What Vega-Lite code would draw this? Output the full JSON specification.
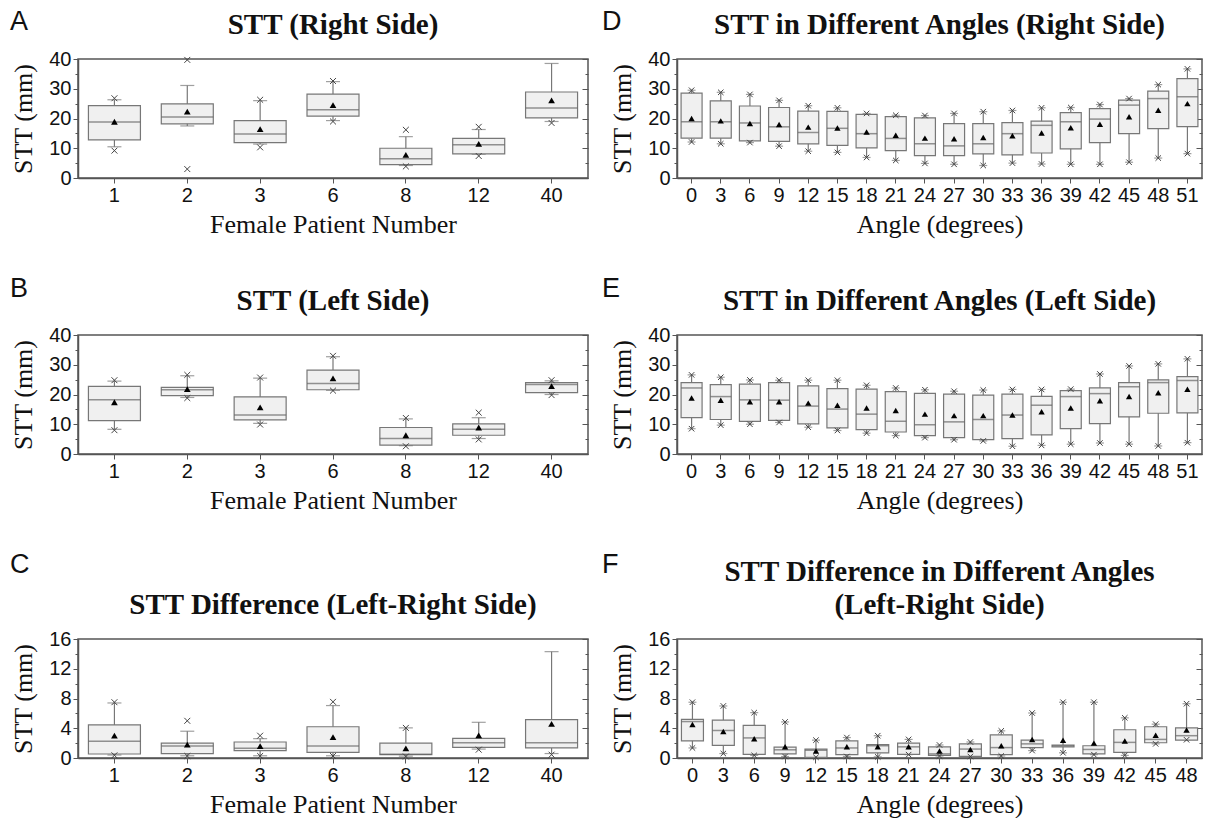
{
  "$schema": "https://vega.github.io/schema/vega-lite/v6.json",
  "padding": {"left": 10, "top": 8, "right": 2, "bottom": 0},
  "background": "white",
  "config": {
    "view": {"stroke": "#555", "strokeWidth": 1.5},
    "axis": {"labelFont": "Liberation Sans", "labelFontSize": 20, "labelColor": "#111", "titleFont": "Liberation Serif", "titleFontSize": 26, "titleFontWeight": "normal", "titleColor": "#111", "domainColor": "#555", "domainWidth": 1.5, "tickColor": "#555", "tickSize": 5, "grid": false, "labelPadding": 2, "labelOverlap": false},
    "axisX": {"labelAngle": 0, "titlePadding": 6},
    "axisY": {"titlePadding": 12},
    "title": {"font": "Liberation Serif", "fontSize": 29, "fontWeight": "bold", "color": "#111", "lineHeight": 33, "offset": 9}
  },
  "datasets": {
    "A": [
      {"c": 1, "q1": 12.8, "q3": 24.3, "med": 18.8, "mean": 18.9, "wlo": 10.5, "whi": 26.3, "mn": 9.2, "mx": 26.8},
      {"c": 2, "q1": 18.2, "q3": 24.9, "med": 20.5, "mean": 22.3, "wlo": 17.5, "whi": 31.1, "mn": 3.0, "mx": 39.7},
      {"c": 3, "q1": 11.9, "q3": 19.3, "med": 14.8, "mean": 16.4, "wlo": 11.4, "whi": 26.0, "mn": 10.3, "mx": 26.3},
      {"c": 6, "q1": 20.8, "q3": 28.2, "med": 22.9, "mean": 24.5, "wlo": 19.3, "whi": 32.4, "mn": 19.0, "mx": 32.6},
      {"c": 8, "q1": 4.5, "q3": 10.0, "med": 6.5, "mean": 7.8, "wlo": 4.2, "whi": 13.9, "mn": 3.9, "mx": 16.2},
      {"c": 12, "q1": 8.1, "q3": 13.3, "med": 11.2, "mean": 11.5, "wlo": 8.0, "whi": 16.3, "mn": 7.4, "mx": 17.2},
      {"c": 40, "q1": 20.2, "q3": 28.9, "med": 23.5, "mean": 26.1, "wlo": 19.0, "whi": 38.5, "mn": 18.5, "mx": null}
    ],
    "B": [
      {"c": 1, "q1": 11.2, "q3": 22.7, "med": 18.2, "mean": 17.4, "wlo": 8.3, "whi": 24.5, "mn": 8.0, "mx": 24.8},
      {"c": 2, "q1": 19.6, "q3": 22.4, "med": 21.6, "mean": 21.8, "wlo": 19.0, "whi": 26.3, "mn": 18.8, "mx": 26.6},
      {"c": 3, "q1": 11.5, "q3": 19.2, "med": 13.1, "mean": 15.7, "wlo": 10.3, "whi": 25.5, "mn": 9.9, "mx": 25.7},
      {"c": 6, "q1": 21.6, "q3": 28.2, "med": 23.7, "mean": 25.4, "wlo": 21.4, "whi": 32.7, "mn": 21.3, "mx": 33.0},
      {"c": 8, "q1": 3.0, "q3": 8.9, "med": 5.2, "mean": 6.3, "wlo": 2.8, "whi": 11.8, "mn": 2.6, "mx": 12.1},
      {"c": 12, "q1": 6.3, "q3": 10.1, "med": 8.3, "mean": 8.9, "wlo": 5.2, "whi": 12.2, "mn": 4.9, "mx": 13.9},
      {"c": 40, "q1": 20.6, "q3": 24.0, "med": 23.4, "mean": 22.8, "wlo": 20.0, "whi": 24.6, "mn": 19.8, "mx": 24.8}
    ],
    "C": [
      {"c": 1, "q1": 0.54, "q3": 4.45, "med": 2.25, "mean": 3.0, "wlo": 0.4, "whi": 7.4, "mn": 0.36, "mx": 7.5},
      {"c": 2, "q1": 0.58, "q3": 2.0, "med": 1.6, "mean": 1.8, "wlo": 0.3, "whi": 3.6, "mn": 0.27, "mx": 5.0},
      {"c": 3, "q1": 1.0, "q3": 2.15, "med": 1.3, "mean": 1.6, "wlo": 0.3, "whi": 2.6, "mn": 0.27, "mx": 3.0},
      {"c": 6, "q1": 0.76, "q3": 4.2, "med": 1.6, "mean": 2.8, "wlo": 0.3, "whi": 7.05, "mn": 0.27, "mx": 7.55},
      {"c": 8, "q1": 0.45, "q3": 2.0, "med": 0.5, "mean": 1.3, "wlo": 0.25, "whi": 4.05, "mn": 0.2, "mx": 4.05},
      {"c": 12, "q1": 1.43, "q3": 2.65, "med": 2.06, "mean": 3.05, "wlo": 1.2, "whi": 4.8, "mn": 1.12, "mx": null},
      {"c": 40, "q1": 1.35, "q3": 5.17, "med": 2.06, "mean": 4.59, "wlo": 0.6, "whi": 14.3, "mn": 0.45, "mx": null}
    ],
    "D": [
      {"c": 0, "q1": 13.4, "q3": 28.5, "med": 18.9, "mean": 20.0, "mn": 12.1, "mx": 29.5},
      {"c": 3, "q1": 13.4, "q3": 25.9, "med": 18.9, "mean": 19.2, "mn": 11.5, "mx": 28.8},
      {"c": 6, "q1": 12.5, "q3": 24.2, "med": 18.5, "mean": 18.3, "mn": 11.9, "mx": 28.1},
      {"c": 9, "q1": 12.3, "q3": 23.7, "med": 17.2, "mean": 18.0, "mn": 10.7, "mx": 26.1},
      {"c": 12, "q1": 11.5, "q3": 22.5, "med": 15.3, "mean": 17.1, "mn": 9.0, "mx": 24.3},
      {"c": 15, "q1": 11.0, "q3": 22.4, "med": 16.7, "mean": 16.8, "mn": 8.6, "mx": 23.6},
      {"c": 18, "q1": 10.1, "q3": 21.4, "med": 14.9, "mean": 15.5, "mn": 6.9, "mx": 21.7},
      {"c": 21, "q1": 9.2, "q3": 20.6, "med": 13.3, "mean": 14.4, "mn": 5.9, "mx": 21.1},
      {"c": 24, "q1": 7.5, "q3": 20.2, "med": 11.5, "mean": 13.4, "mn": 4.9, "mx": 21.0},
      {"c": 27, "q1": 7.5, "q3": 18.3, "med": 10.8, "mean": 13.2, "mn": 4.6, "mx": 21.7},
      {"c": 30, "q1": 8.1, "q3": 18.3, "med": 11.5, "mean": 13.6, "mn": 4.2, "mx": 22.3},
      {"c": 33, "q1": 7.8, "q3": 18.6, "med": 14.9, "mean": 14.2, "mn": 5.0, "mx": 22.7},
      {"c": 36, "q1": 8.4, "q3": 19.1, "med": 17.7, "mean": 15.1, "mn": 4.7, "mx": 23.6},
      {"c": 39, "q1": 9.8, "q3": 22.0, "med": 18.9, "mean": 16.9, "mn": 4.6, "mx": 23.7},
      {"c": 42, "q1": 11.9, "q3": 23.3, "med": 19.8, "mean": 18.1, "mn": 4.6, "mx": 24.7},
      {"c": 45, "q1": 14.9, "q3": 26.2, "med": 24.5, "mean": 20.6, "mn": 5.3, "mx": 26.7},
      {"c": 48, "q1": 16.6, "q3": 29.2, "med": 26.7, "mean": 22.8, "mn": 6.7, "mx": 31.4},
      {"c": 51, "q1": 17.3, "q3": 33.4, "med": 27.3, "mean": 25.0, "mn": 8.2, "mx": 36.7}
    ],
    "E": [
      {"c": 0, "q1": 12.2, "q3": 24.0, "med": 22.2, "mean": 18.8, "mn": 8.5, "mx": 26.6},
      {"c": 3, "q1": 11.6, "q3": 23.3, "med": 19.3, "mean": 18.1, "mn": 9.7, "mx": 25.8},
      {"c": 6, "q1": 11.0, "q3": 23.5, "med": 18.2, "mean": 17.6, "mn": 10.0, "mx": 24.9},
      {"c": 9, "q1": 11.3, "q3": 24.0, "med": 18.1, "mean": 17.6, "mn": 10.6, "mx": 24.8},
      {"c": 12, "q1": 10.1, "q3": 22.9, "med": 16.1, "mean": 17.1, "mn": 9.0, "mx": 24.8},
      {"c": 15, "q1": 8.8, "q3": 22.0, "med": 15.1, "mean": 16.4, "mn": 7.9, "mx": 24.8},
      {"c": 18, "q1": 8.2, "q3": 21.8, "med": 13.4, "mean": 15.5, "mn": 7.0, "mx": 23.1},
      {"c": 21, "q1": 7.4, "q3": 21.0, "med": 11.0, "mean": 14.6, "mn": 6.2, "mx": 22.2},
      {"c": 24, "q1": 6.2, "q3": 20.4, "med": 9.8, "mean": 13.4, "mn": 5.5, "mx": 21.6},
      {"c": 27, "q1": 5.5, "q3": 20.1, "med": 10.8, "mean": 12.9, "mn": 4.8, "mx": 21.1},
      {"c": 30, "q1": 4.8, "q3": 19.8, "med": 11.6, "mean": 12.9, "mn": 4.4, "mx": 21.5},
      {"c": 33, "q1": 5.2, "q3": 20.1, "med": 13.1, "mean": 13.1, "mn": 2.6, "mx": 21.7},
      {"c": 36, "q1": 6.4, "q3": 19.4, "med": 16.4, "mean": 14.2, "mn": 2.9, "mx": 21.7},
      {"c": 39, "q1": 8.5, "q3": 21.3, "med": 19.3, "mean": 15.5, "mn": 3.3, "mx": 21.8},
      {"c": 42, "q1": 10.2, "q3": 22.2, "med": 20.3, "mean": 17.9, "mn": 3.7, "mx": 26.9},
      {"c": 45, "q1": 12.5, "q3": 24.0, "med": 22.6, "mean": 19.3, "mn": 3.3, "mx": 29.6},
      {"c": 48, "q1": 13.7, "q3": 24.9, "med": 24.0, "mean": 20.6, "mn": 2.7, "mx": 30.3},
      {"c": 51, "q1": 13.8, "q3": 26.0, "med": 24.7, "mean": 21.8, "mn": 3.8, "mx": 32.0}
    ],
    "F": [
      {"c": 0, "q1": 2.3, "q3": 5.2, "med": 4.9, "mean": 4.5, "mn": 1.35, "mx": 7.5},
      {"c": 3, "q1": 1.7, "q3": 5.1, "med": 3.7, "mean": 3.55, "mn": 0.6, "mx": 7.0},
      {"c": 6, "q1": 0.5, "q3": 4.4, "med": 2.7, "mean": 2.6, "mn": 0.35, "mx": 6.1},
      {"c": 9, "q1": 0.55, "q3": 1.45, "med": 1.1, "mean": 1.5, "mn": 0.2, "mx": 4.85},
      {"c": 12, "q1": 0.1, "q3": 1.2, "med": 1.05, "mean": 0.95, "mn": 0.1, "mx": 2.4},
      {"c": 15, "q1": 0.45, "q3": 2.3, "med": 1.35, "mean": 1.5, "mn": 0.2, "mx": 2.75},
      {"c": 18, "q1": 0.7, "q3": 1.8, "med": 1.65, "mean": 1.5, "mn": 0.15, "mx": 3.0},
      {"c": 21, "q1": 0.5, "q3": 2.0, "med": 1.5, "mean": 1.5, "mn": 0.45, "mx": 2.5},
      {"c": 24, "q1": 0.35, "q3": 1.5, "med": 0.55, "mean": 0.95, "mn": 0.27, "mx": 1.75},
      {"c": 27, "q1": 0.22, "q3": 1.9, "med": 1.2, "mean": 1.15, "mn": 0.2, "mx": 2.15},
      {"c": 30, "q1": 0.45, "q3": 3.1, "med": 1.4, "mean": 1.65, "mn": 0.27, "mx": 3.65},
      {"c": 33, "q1": 1.4, "q3": 2.4, "med": 1.9, "mean": 2.5, "mn": 1.0, "mx": 6.05},
      {"c": 36, "q1": 1.5, "q3": 1.75, "med": 1.65, "mean": 2.4, "mn": 0.7, "mx": 7.5},
      {"c": 39, "q1": 0.55, "q3": 1.65, "med": 1.15, "mean": 2.0, "mn": 0.45, "mx": 7.5},
      {"c": 42, "q1": 0.75, "q3": 3.8, "med": 2.1, "mean": 2.3, "mn": 0.35, "mx": 5.4},
      {"c": 45, "q1": 2.05, "q3": 4.2, "med": 2.5, "mean": 3.05, "mn": 1.9, "mx": 4.55},
      {"c": 48, "q1": 2.4, "q3": 4.05, "med": 3.0, "mean": 3.75, "mn": 2.45, "mx": 7.3}
    ]
  },
  "columns": 2,
  "spacing": {"row": 37, "column": 12},
  "concat": [
    {
      "title": {"text": "A", "font": "Liberation Sans", "fontWeight": "normal", "fontSize": 27, "anchor": "start", "offset": 14, "dy": 40},
      "vconcat": [{
        "width": 510, "height": 119,
        "title": {"text": "STT (Right Side)"},
        "data": {"name": "A"},
        "resolve": {"axis": {"y": "independent"}},
        "encoding": {"x": {"field": "c", "type": "ordinal", "scale": {"domain": [1, 2, 3, 6, 8, 12, 40], "paddingInner": 0, "paddingOuter": 0}, "axis": {"title": "Female Patient Number"}}},
        "layer": [
          {"mark": {"type": "rule", "color": "#777", "strokeWidth": 1.2}, "encoding": {"y": {"field": "wlo", "type": "quantitative", "scale": {"domain": [0, 40], "nice": false}, "axis": {"orient": "left", "values": [0, 10, 20, 30, 40], "title": "STT (mm)"}}, "y2": {"field": "whi"}}},
          {"mark": {"type": "tick", "color": "#777", "size": 14, "thickness": 1.2}, "encoding": {"y": {"field": "whi", "type": "quantitative", "axis": {"orient": "left", "values": [5, 15, 25, 35], "labels": false, "tickSize": 3, "domain": false, "title": null}}}},
          {"mark": {"type": "tick", "color": "#777", "size": 14, "thickness": 1.2}, "encoding": {"y": {"field": "wlo", "type": "quantitative", "axis": {"orient": "right", "values": [0, 10, 20, 30, 40], "labels": false, "tickSize": -6, "domain": false, "title": null}}}},
          {"mark": {"type": "bar", "fill": "#f0f0f0", "stroke": "#777", "strokeWidth": 1.2, "width": 52}, "encoding": {"y": {"field": "q1", "type": "quantitative", "axis": {"orient": "right", "values": [5, 15, 25, 35], "labels": false, "tickSize": -3, "domain": false, "title": null}}, "y2": {"field": "q3"}}},
          {"mark": {"type": "tick", "color": "#666", "size": 52, "thickness": 1.5}, "encoding": {"y": {"field": "med", "type": "quantitative", "axis": null}}},
          {"mark": {"type": "point", "shape": "triangle-up", "filled": true, "color": "#000", "size": 45, "opacity": 1}, "encoding": {"y": {"field": "mean", "type": "quantitative", "axis": null}}},
          {"mark": {"type": "point", "shape": "M-1,-1L1,1M-1,1L1,-1", "color": "#444", "size": 35, "strokeWidth": 1, "opacity": 1}, "encoding": {"y": {"field": "mn", "type": "quantitative", "axis": null}}},
          {"mark": {"type": "point", "shape": "M-1,-1L1,1M-1,1L1,-1", "color": "#444", "size": 35, "strokeWidth": 1, "opacity": 1}, "encoding": {"y": {"field": "mx", "type": "quantitative", "axis": null}}}
        ]
      }]
    },
    {
      "title": {"text": "D", "font": "Liberation Sans", "fontWeight": "normal", "fontSize": 27, "anchor": "start", "offset": 14, "dy": 40, "dx": -7},
      "vconcat": [{
        "width": 525, "height": 119,
        "title": {"text": "STT in Different Angles (Right Side)"},
        "data": {"name": "D"},
        "resolve": {"axis": {"y": "independent"}},
        "encoding": {"x": {"field": "c", "type": "ordinal", "scale": {"domain": [0, 3, 6, 9, 12, 15, 18, 21, 24, 27, 30, 33, 36, 39, 42, 45, 48, 51], "paddingInner": 0, "paddingOuter": 0}, "axis": {"title": "Angle (degrees)"}}},
        "layer": [
          {"mark": {"type": "rule", "color": "#777", "strokeWidth": 1.2}, "encoding": {"y": {"field": "mn", "type": "quantitative", "scale": {"domain": [0, 40], "nice": false}, "axis": {"orient": "left", "values": [0, 10, 20, 30, 40], "title": "STT (mm)"}}, "y2": {"field": "mx"}}},
          {"mark": {"type": "tick", "color": "#777", "size": 8, "thickness": 1.2}, "encoding": {"y": {"field": "mx", "type": "quantitative", "axis": {"orient": "left", "values": [5, 15, 25, 35], "labels": false, "tickSize": 3, "domain": false, "title": null}}}},
          {"mark": {"type": "tick", "color": "#777", "size": 8, "thickness": 1.2}, "encoding": {"y": {"field": "mn", "type": "quantitative", "axis": {"orient": "right", "values": [0, 10, 20, 30, 40], "labels": false, "tickSize": -6, "domain": false, "title": null}}}},
          {"mark": {"type": "bar", "fill": "#f0f0f0", "stroke": "#777", "strokeWidth": 1.2, "width": 21}, "encoding": {"y": {"field": "q1", "type": "quantitative", "axis": {"orient": "right", "values": [5, 15, 25, 35], "labels": false, "tickSize": -3, "domain": false, "title": null}}, "y2": {"field": "q3"}}},
          {"mark": {"type": "tick", "color": "#666", "size": 21, "thickness": 1.5}, "encoding": {"y": {"field": "med", "type": "quantitative", "axis": null}}},
          {"mark": {"type": "point", "shape": "triangle-up", "filled": true, "color": "#000", "size": 40, "opacity": 1}, "encoding": {"y": {"field": "mean", "type": "quantitative", "axis": null}}},
          {"mark": {"type": "point", "shape": "M-1,-1L1,1M-1,1L1,-1", "color": "#444", "size": 30, "strokeWidth": 1, "opacity": 1}, "encoding": {"y": {"field": "mn", "type": "quantitative", "axis": null}}},
          {"mark": {"type": "point", "shape": "M-1,-1L1,1M-1,1L1,-1", "color": "#444", "size": 30, "strokeWidth": 1, "opacity": 1}, "encoding": {"y": {"field": "mx", "type": "quantitative", "axis": null}}}
        ]
      }]
    },
    {
      "title": {"text": "B", "font": "Liberation Sans", "fontWeight": "normal", "fontSize": 27, "anchor": "start", "offset": 14, "dy": 31},
      "vconcat": [{
        "width": 510, "height": 119,
        "title": {"text": "STT (Left Side)"},
        "data": {"name": "B"},
        "resolve": {"axis": {"y": "independent"}},
        "encoding": {"x": {"field": "c", "type": "ordinal", "scale": {"domain": [1, 2, 3, 6, 8, 12, 40], "paddingInner": 0, "paddingOuter": 0}, "axis": {"title": "Female Patient Number"}}},
        "layer": [
          {"mark": {"type": "rule", "color": "#777", "strokeWidth": 1.2}, "encoding": {"y": {"field": "wlo", "type": "quantitative", "scale": {"domain": [0, 40], "nice": false}, "axis": {"orient": "left", "values": [0, 10, 20, 30, 40], "title": "STT (mm)"}}, "y2": {"field": "whi"}}},
          {"mark": {"type": "tick", "color": "#777", "size": 14, "thickness": 1.2}, "encoding": {"y": {"field": "whi", "type": "quantitative", "axis": {"orient": "left", "values": [5, 15, 25, 35], "labels": false, "tickSize": 3, "domain": false, "title": null}}}},
          {"mark": {"type": "tick", "color": "#777", "size": 14, "thickness": 1.2}, "encoding": {"y": {"field": "wlo", "type": "quantitative", "axis": {"orient": "right", "values": [0, 10, 20, 30, 40], "labels": false, "tickSize": -6, "domain": false, "title": null}}}},
          {"mark": {"type": "bar", "fill": "#f0f0f0", "stroke": "#777", "strokeWidth": 1.2, "width": 52}, "encoding": {"y": {"field": "q1", "type": "quantitative", "axis": {"orient": "right", "values": [5, 15, 25, 35], "labels": false, "tickSize": -3, "domain": false, "title": null}}, "y2": {"field": "q3"}}},
          {"mark": {"type": "tick", "color": "#666", "size": 52, "thickness": 1.5}, "encoding": {"y": {"field": "med", "type": "quantitative", "axis": null}}},
          {"mark": {"type": "point", "shape": "triangle-up", "filled": true, "color": "#000", "size": 45, "opacity": 1}, "encoding": {"y": {"field": "mean", "type": "quantitative", "axis": null}}},
          {"mark": {"type": "point", "shape": "M-1,-1L1,1M-1,1L1,-1", "color": "#444", "size": 35, "strokeWidth": 1, "opacity": 1}, "encoding": {"y": {"field": "mn", "type": "quantitative", "axis": null}}},
          {"mark": {"type": "point", "shape": "M-1,-1L1,1M-1,1L1,-1", "color": "#444", "size": 35, "strokeWidth": 1, "opacity": 1}, "encoding": {"y": {"field": "mx", "type": "quantitative", "axis": null}}}
        ]
      }]
    },
    {
      "title": {"text": "E", "font": "Liberation Sans", "fontWeight": "normal", "fontSize": 27, "anchor": "start", "offset": 14, "dy": 31, "dx": -7},
      "vconcat": [{
        "width": 525, "height": 119,
        "title": {"text": "STT in Different Angles (Left Side)"},
        "data": {"name": "E"},
        "resolve": {"axis": {"y": "independent"}},
        "encoding": {"x": {"field": "c", "type": "ordinal", "scale": {"domain": [0, 3, 6, 9, 12, 15, 18, 21, 24, 27, 30, 33, 36, 39, 42, 45, 48, 51], "paddingInner": 0, "paddingOuter": 0}, "axis": {"title": "Angle (degrees)"}}},
        "layer": [
          {"mark": {"type": "rule", "color": "#777", "strokeWidth": 1.2}, "encoding": {"y": {"field": "mn", "type": "quantitative", "scale": {"domain": [0, 40], "nice": false}, "axis": {"orient": "left", "values": [0, 10, 20, 30, 40], "title": "STT (mm)"}}, "y2": {"field": "mx"}}},
          {"mark": {"type": "tick", "color": "#777", "size": 8, "thickness": 1.2}, "encoding": {"y": {"field": "mx", "type": "quantitative", "axis": {"orient": "left", "values": [5, 15, 25, 35], "labels": false, "tickSize": 3, "domain": false, "title": null}}}},
          {"mark": {"type": "tick", "color": "#777", "size": 8, "thickness": 1.2}, "encoding": {"y": {"field": "mn", "type": "quantitative", "axis": {"orient": "right", "values": [0, 10, 20, 30, 40], "labels": false, "tickSize": -6, "domain": false, "title": null}}}},
          {"mark": {"type": "bar", "fill": "#f0f0f0", "stroke": "#777", "strokeWidth": 1.2, "width": 21}, "encoding": {"y": {"field": "q1", "type": "quantitative", "axis": {"orient": "right", "values": [5, 15, 25, 35], "labels": false, "tickSize": -3, "domain": false, "title": null}}, "y2": {"field": "q3"}}},
          {"mark": {"type": "tick", "color": "#666", "size": 21, "thickness": 1.5}, "encoding": {"y": {"field": "med", "type": "quantitative", "axis": null}}},
          {"mark": {"type": "point", "shape": "triangle-up", "filled": true, "color": "#000", "size": 40, "opacity": 1}, "encoding": {"y": {"field": "mean", "type": "quantitative", "axis": null}}},
          {"mark": {"type": "point", "shape": "M-1,-1L1,1M-1,1L1,-1", "color": "#444", "size": 30, "strokeWidth": 1, "opacity": 1}, "encoding": {"y": {"field": "mn", "type": "quantitative", "axis": null}}},
          {"mark": {"type": "point", "shape": "M-1,-1L1,1M-1,1L1,-1", "color": "#444", "size": 30, "strokeWidth": 1, "opacity": 1}, "encoding": {"y": {"field": "mx", "type": "quantitative", "axis": null}}}
        ]
      }]
    },
    {
      "title": {"text": "C", "font": "Liberation Sans", "fontWeight": "normal", "fontSize": 27, "anchor": "start", "offset": 14, "dy": 36},
      "vconcat": [{
        "width": 510, "height": 119,
        "title": {"text": [" ", "STT Difference (Left-Right Side)"]},
        "data": {"name": "C"},
        "resolve": {"axis": {"y": "independent"}},
        "encoding": {"x": {"field": "c", "type": "ordinal", "scale": {"domain": [1, 2, 3, 6, 8, 12, 40], "paddingInner": 0, "paddingOuter": 0}, "axis": {"title": "Female Patient Number"}}},
        "layer": [
          {"mark": {"type": "rule", "color": "#777", "strokeWidth": 1.2}, "encoding": {"y": {"field": "wlo", "type": "quantitative", "scale": {"domain": [0, 16], "nice": false}, "axis": {"orient": "left", "values": [0, 4, 8, 12, 16], "title": "STT (mm)"}}, "y2": {"field": "whi"}}},
          {"mark": {"type": "tick", "color": "#777", "size": 14, "thickness": 1.2}, "encoding": {"y": {"field": "whi", "type": "quantitative", "axis": {"orient": "left", "values": [2, 6, 10, 14], "labels": false, "tickSize": 3, "domain": false, "title": null}}}},
          {"mark": {"type": "tick", "color": "#777", "size": 14, "thickness": 1.2}, "encoding": {"y": {"field": "wlo", "type": "quantitative", "axis": {"orient": "right", "values": [0, 4, 8, 12, 16], "labels": false, "tickSize": -6, "domain": false, "title": null}}}},
          {"mark": {"type": "bar", "fill": "#f0f0f0", "stroke": "#777", "strokeWidth": 1.2, "width": 52}, "encoding": {"y": {"field": "q1", "type": "quantitative", "axis": {"orient": "right", "values": [2, 6, 10, 14], "labels": false, "tickSize": -3, "domain": false, "title": null}}, "y2": {"field": "q3"}}},
          {"mark": {"type": "tick", "color": "#666", "size": 52, "thickness": 1.5}, "encoding": {"y": {"field": "med", "type": "quantitative", "axis": null}}},
          {"mark": {"type": "point", "shape": "triangle-up", "filled": true, "color": "#000", "size": 45, "opacity": 1}, "encoding": {"y": {"field": "mean", "type": "quantitative", "axis": null}}},
          {"mark": {"type": "point", "shape": "M-1,-1L1,1M-1,1L1,-1", "color": "#444", "size": 35, "strokeWidth": 1, "opacity": 1}, "encoding": {"y": {"field": "mn", "type": "quantitative", "axis": null}}},
          {"mark": {"type": "point", "shape": "M-1,-1L1,1M-1,1L1,-1", "color": "#444", "size": 35, "strokeWidth": 1, "opacity": 1}, "encoding": {"y": {"field": "mx", "type": "quantitative", "axis": null}}}
        ]
      }]
    },
    {
      "title": {"text": "F", "font": "Liberation Sans", "fontWeight": "normal", "fontSize": 27, "anchor": "start", "offset": 14, "dy": 36, "dx": -7},
      "vconcat": [{
        "width": 525, "height": 119,
        "title": {"text": ["STT Difference in Different Angles", "(Left-Right Side)"]},
        "data": {"name": "F"},
        "resolve": {"axis": {"y": "independent"}},
        "encoding": {"x": {"field": "c", "type": "ordinal", "scale": {"domain": [0, 3, 6, 9, 12, 15, 18, 21, 24, 27, 30, 33, 36, 39, 42, 45, 48], "paddingInner": 0, "paddingOuter": 0}, "axis": {"title": "Angle (degrees)"}}},
        "layer": [
          {"mark": {"type": "rule", "color": "#777", "strokeWidth": 1.2}, "encoding": {"y": {"field": "mn", "type": "quantitative", "scale": {"domain": [0, 16], "nice": false}, "axis": {"orient": "left", "values": [0, 4, 8, 12, 16], "title": "STT (mm)"}}, "y2": {"field": "mx"}}},
          {"mark": {"type": "tick", "color": "#777", "size": 8, "thickness": 1.2}, "encoding": {"y": {"field": "mx", "type": "quantitative", "axis": {"orient": "left", "values": [2, 6, 10, 14], "labels": false, "tickSize": 3, "domain": false, "title": null}}}},
          {"mark": {"type": "tick", "color": "#777", "size": 8, "thickness": 1.2}, "encoding": {"y": {"field": "mn", "type": "quantitative", "axis": {"orient": "right", "values": [0, 4, 8, 12, 16], "labels": false, "tickSize": -6, "domain": false, "title": null}}}},
          {"mark": {"type": "bar", "fill": "#f0f0f0", "stroke": "#777", "strokeWidth": 1.2, "width": 22}, "encoding": {"y": {"field": "q1", "type": "quantitative", "axis": {"orient": "right", "values": [2, 6, 10, 14], "labels": false, "tickSize": -3, "domain": false, "title": null}}, "y2": {"field": "q3"}}},
          {"mark": {"type": "tick", "color": "#666", "size": 22, "thickness": 1.5}, "encoding": {"y": {"field": "med", "type": "quantitative", "axis": null}}},
          {"mark": {"type": "point", "shape": "triangle-up", "filled": true, "color": "#000", "size": 40, "opacity": 1}, "encoding": {"y": {"field": "mean", "type": "quantitative", "axis": null}}},
          {"mark": {"type": "point", "shape": "M-1,-1L1,1M-1,1L1,-1", "color": "#444", "size": 30, "strokeWidth": 1, "opacity": 1}, "encoding": {"y": {"field": "mn", "type": "quantitative", "axis": null}}},
          {"mark": {"type": "point", "shape": "M-1,-1L1,1M-1,1L1,-1", "color": "#444", "size": 30, "strokeWidth": 1, "opacity": 1}, "encoding": {"y": {"field": "mx", "type": "quantitative", "axis": null}}}
        ]
      }]
    }
  ]
}
